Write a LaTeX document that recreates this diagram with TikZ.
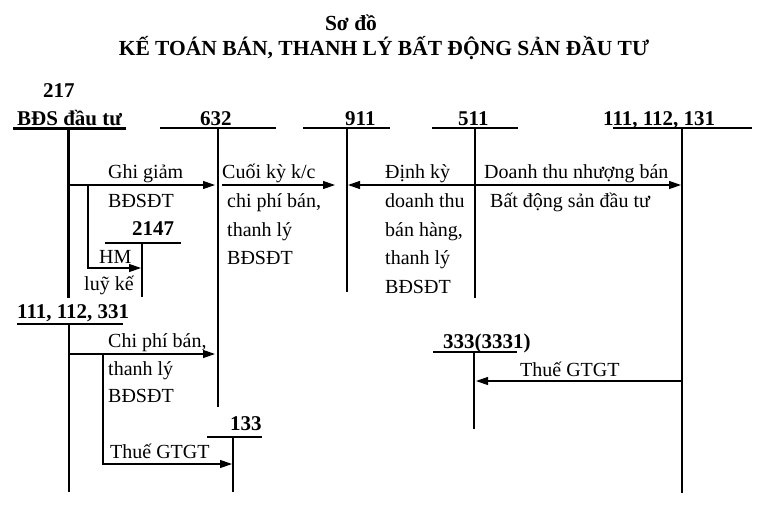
\documentclass[tikz,border=0pt]{standalone}
\usepackage{fontspec}
\setmainfont{Liberation Serif}
\usetikzlibrary{arrows.meta}
\begin{document}
\begin{tikzpicture}[x=1pt,y=-1pt,
  txt/.style={anchor=base west,inner sep=0pt,font=\fontsize{20}{22}\selectfont},
  acc/.style={anchor=base west,inner sep=0pt,font=\fontsize{21}{23}\selectfont\bfseries},
  ttl/.style={anchor=base,inner sep=0pt,font=\fontsize{21.5}{23}\selectfont\bfseries},
  tacc/.style={line width=1.4pt},
  tthick/.style={line width=3pt},
  arr/.style={line width=1.2pt,-{Triangle[length=12pt,width=8pt]}},
  plain/.style={line width=1.2pt}
]
\useasboundingbox (0,0) rectangle (759,511);
% titles
\node[ttl] (t1) at (351,31) {Sơ đồ};
\node[ttl] (t2) at (384,56) {KẾ TOÁN BÁN, THANH LÝ BẤT ĐỘNG SẢN ĐẦU TƯ};
% account labels
\node[acc] (n217) at (43,97) {217};
\node[acc] (n217b) at (17,125) {BĐS đầu tư};
\node[acc] (n632) at (200,125) {632};
\node[acc] (n911) at (345,125) {911};
\node[acc] (n511) at (458,125) {511};
\node[acc] (n111a) at (603,125) {111, 112, 131};
\node[acc] (n2147) at (132,235) {2147};
\node[acc] (n111b) at (17,318) {111, 112, 331};
\node[acc] (n133) at (230,430) {133};
\node[acc] (n333) at (443,348) {333(3331)};
% T accounts
\coordinate (a217l) at (13,128); \coordinate (a217r) at (126,128);
\coordinate (a217t) at (68,128); \coordinate (a217b) at (68,298);
\draw[tthick] (a217l) -- (a217r); \draw[tthick] (a217t) -- (a217b);
\coordinate (a632l) at (160,128); \coordinate (a632r) at (276,128);
\coordinate (a632t) at (218,128); \coordinate (a632b) at (218,407);
\draw[tacc] (a632l) -- (a632r); \draw[tacc] (a632t) -- (a632b);
\coordinate (a911l) at (303,128); \coordinate (a911r) at (390,128);
\coordinate (a911t) at (347,128); \coordinate (a911b) at (347,292);
\draw[tacc] (a911l) -- (a911r); \draw[tacc] (a911t) -- (a911b);
\coordinate (a511l) at (432,128); \coordinate (a511r) at (518,128);
\coordinate (a511t) at (475,128); \coordinate (a511b) at (475,298);
\draw[tacc] (a511l) -- (a511r); \draw[tacc] (a511t) -- (a511b);
\coordinate (a111l) at (613,128); \coordinate (a111r) at (752,128);
\coordinate (a111t) at (682,128); \coordinate (a111b) at (682,493);
\draw[tacc] (a111l) -- (a111r); \draw[tacc] (a111t) -- (a111b);
\coordinate (a2147l) at (105,243); \coordinate (a2147r) at (181,243);
\coordinate (a2147t) at (142,243); \coordinate (a2147b) at (142,297);
\draw[tacc] (a2147l) -- (a2147r); \draw[tacc] (a2147t) -- (a2147b);
\coordinate (b111l) at (17,324); \coordinate (b111r) at (123,324);
\coordinate (b111t) at (69,324); \coordinate (b111b) at (69,492);
\draw[tacc] (b111l) -- (b111r); \draw[tacc] (b111t) -- (b111b);
\coordinate (a133l) at (207,437); \coordinate (a133r) at (262,437);
\coordinate (a133t) at (233,437); \coordinate (a133b) at (233,492);
\draw[tacc] (a133l) -- (a133r); \draw[tacc] (a133t) -- (a133b);
\coordinate (a333l) at (433,352); \coordinate (a333r) at (517,352);
\coordinate (a333t) at (474,352); \coordinate (a333b) at (474,429);
\draw[tacc] (a333l) -- (a333r); \draw[tacc] (a333t) -- (a333b);
% arrows
\coordinate (p1s) at (68,185); \coordinate (p1e) at (215,185);
\draw[arr] (p1s) -- (p1e);
\coordinate (p2s) at (222,185); \coordinate (p2e) at (335,185);
\draw[arr] (p2s) -- (p2e);
\coordinate (p3s) at (475,185); \coordinate (p3e) at (348,185); \coordinate (p4e) at (681,185);
\draw[arr] (p3s) -- (p3e);
\draw[arr] (p3s) -- (p4e);
\coordinate (p5s) at (88,185); \coordinate (p5c) at (88,268); \coordinate (p5e) at (141,268);
\draw[arr] (p5s) -- (p5c) -- (p5e);
\coordinate (p6s) at (69,354); \coordinate (p6e) at (215,354);
\draw[arr] (p6s) -- (p6e);
\coordinate (p7s) at (103,354); \coordinate (p7c) at (103,464); \coordinate (p7e) at (232,464);
\draw[arr] (p7s) -- (p7c) -- (p7e);
\coordinate (p8s) at (682,381); \coordinate (p8e) at (476,381);
\draw[arr] (p8s) -- (p8e);
% texts
\node[txt] (l1a) at (108,178) {Ghi giảm};
\node[txt] (l1b) at (108,207) {BĐSĐT};
\node[txt] (l2a) at (222,178) {Cuối kỳ k/c};
\node[txt] (l2b) at (227,207) {chi phí bán,};
\node[txt] (l2c) at (227,236) {thanh lý};
\node[txt] (l2d) at (227,264) {BĐSĐT};
\node[txt] (l3a) at (385,178) {Định kỳ};
\node[txt] (l3b) at (385,207) {doanh thu};
\node[txt] (l3c) at (385,236) {bán hàng,};
\node[txt] (l3d) at (385,264) {thanh lý};
\node[txt] (l3e) at (385,293) {BĐSĐT};
\node[txt] (l4a) at (484,178) {Doanh thu nhượng bán};
\node[txt] (l4b) at (490,207) {Bất động sản đầu tư};
\node[txt] (l5a) at (99,263) {HM};
\node[txt] (l5b) at (84,290) {luỹ kế};
\node[txt] (l6a) at (108,347) {Chi phí bán,};
\node[txt] (l6b) at (108,375) {thanh lý};
\node[txt] (l6c) at (108,402) {BĐSĐT};
\node[txt] (l7a) at (110,458) {Thuế GTGT};
\node[txt] (l8a) at (520,376) {Thuế GTGT};
\end{tikzpicture}
\end{document}
